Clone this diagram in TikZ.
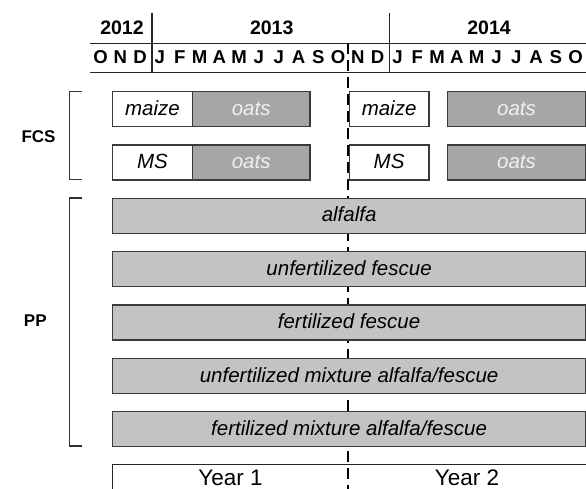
\documentclass[tikz,border=0pt]{standalone}
\usepackage{fontspec}
\setmainfont{Liberation Sans}
\usetikzlibrary{positioning}
\definecolor{oatfill}{HTML}{A6A6A6}
\definecolor{pasturefill}{HTML}{C3C3C3}
\definecolor{boxline}{HTML}{3A3A3A}
\tikzstyle{crop}=[draw=boxline, line width=1.3pt, inner sep=0pt, outer sep=0pt, minimum height=35pt, text height=12.4pt, text depth=0pt, font=\fontsize{20.5}{24}\selectfont\itshape]
\tikzstyle{maizebox}=[crop, fill=white, minimum width=79.6pt]
\tikzstyle{oatbox}=[crop, fill=oatfill, text=white!94!black]
\tikzstyle{pasture}=[crop, fill=pasturefill, minimum width=472.8pt]
\tikzstyle{yearlabel}=[font=\fontsize{19.5}{22}\selectfont\bfseries, anchor=base]
\tikzstyle{month}=[font=\fontsize{18.6}{22}\selectfont\bfseries, anchor=base]
\tikzstyle{system}=[font=\fontsize{17}{20}\selectfont\bfseries, anchor=base]
\tikzstyle{period}=[font=\fontsize{22.5}{26}\selectfont, anchor=base, text depth=0pt, inner sep=1pt]
\tikzstyle{rule}=[line width=1.2pt, black!85]
\tikzstyle{bracket}=[line width=1.3pt, black!80]
\tikzstyle{divider}=[line width=2pt, dash pattern=on 11pt off 6pt]

\begin{document}
\begin{tikzpicture}[x=1pt, y=-1pt]
  \useasboundingbox (0,0) rectangle (586,489);
  % time axis
  \node[yearlabel] (y2012) at (122,35) {2012};
  \node[yearlabel] (y2013) at (271.7,35) {2013};
  \node[yearlabel] (y2014) at (489,35) {2014};
  \foreach \m [count=\i from 0] in {O,N,D,J,F,M,A,M,J,J,A,S,O,N,D,J,F,M,A,M,J,J,A,S,O}
    \node[month] (m\i) at (100.5+19.8*\i, 63.3) {\m};
  \draw[rule] (90,43.3) -- (586,43.3);
  \draw[rule] (90,72.7) -- (586,72.7);
  \draw[rule] (152,12.7) -- (152,72.7);
  \draw[rule] (389.3,12.7) -- (389.3,72.7);
  \coordinate (cut top) at (348.3,43.3);
  \coordinate (cut bottom) at (348.3,489);
  \draw[divider] (cut top) -- (cut bottom);

  % forage crop system
  \node[maizebox, anchor=north west] (maize1) at (112.7,91.7) {maize};
  \node[oatbox, minimum width=117.7pt, right=0pt of maize1] (oats1) {oats};
  \node[maizebox, below=18.3pt of maize1] (ms1) {MS};
  \node[oatbox, minimum width=117.7pt, right=0pt of ms1] (oats2) {oats};
  \node[maizebox, anchor=north west] (maize2) at (349.3,91.7) {maize};
  \node[oatbox, minimum width=138.2pt, right=18.5pt of maize2] (oats3) {oats};
  \node[maizebox, below=18.3pt of maize2] (ms2) {MS};
  \node[oatbox, minimum width=138.2pt, right=18.5pt of ms2] (oats4) {oats};

  % permanent pastures
  \foreach \crop [count=\i] in {alfalfa, unfertilized fescue, fertilized fescue,
      {unfertilized mixture alfalfa/fescue}, {fertilized mixture alfalfa/fescue}}
    \node[pasture] (pp\i) at (349.1, 215.8+53.35*\i-53.35) {\crop};

  \node[system] (fcs) at (38.5,142.3) {FCS};
  \node[system] (pp) at (35.3,326) {PP};
  \draw[bracket] (82.3,91.7) -| (69.3,179.3) -- (82.3,179.3);
  \draw[bracket] (82.3,198) -| (69.3,446) -- (82.3,446);

  % years
  \draw[rule] (112.7,500) |- (590,464.3);
  \node[period] (year1) at (230.5,485.5) {Year 1};
  \node[period] (year2) at (467,485.5) {Year 2};
\end{tikzpicture}
\end{document}
